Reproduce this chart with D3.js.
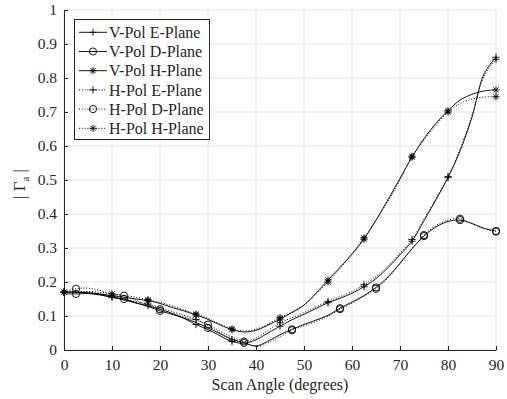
<!DOCTYPE html>
<meta charset="utf-8">
<style>
    body { margin: 0; background: #fff; overflow: hidden; }
    text { font-family: "Liberation Serif", "DejaVu Serif", serif; fill: #262626; }
</style>
<svg id="canvas" width="507" height="399"></svg>
<script src="https://d3js.org/d3.v7.min.js"></script>
<script>

    // scan angles (degrees) the curves are read at
    var angles = [0, 2.5, 5, 7.5, 10, 12.5, 15, 17.5, 20, 22.5, 25, 27.5, 30, 32.5, 35, 37.5, 40, 42.5, 45,
                  47.5, 50, 52.5, 55, 57.5, 60, 62.5, 65, 67.5, 70, 72.5, 75, 77.5, 80, 82.5, 85, 87.5, 90];

    var vPolE = [.170, .170, .168, .163, .155, .147, .138, .130, .120, .108, .093, .075, .060, .042, .025, .020, .030, .050, .070,
                 .089, .105, .122, .139, .152, .167, .186, .210, .242, .280, .320, .380, .442, .507, .585, .685, .812, .861];
    var vPolD = [.165, .165, .166, .162, .155, .150, .139, .128, .115, .105, .094, .081, .065, .048, .032, .021, .012, .026, .045,
                 .061, .075, .088, .102, .123, .141, .160, .184, .215, .255, .298, .335, .362, .378, .382, .372, .358, .350];
    var vPolH = [.170, .170, .168, .165, .160, .155, .150, .145, .137, .125, .115, .103, .090, .074, .060, .053, .058, .073, .091,
                 .110, .132, .167, .206, .243, .282, .326, .382, .442, .505, .567, .622, .667, .704, .735, .752, .762, .765];
    var hPolE = [.170, .172, .170, .165, .158, .150, .142, .135, .125, .113, .102, .090, .072, .050, .030, .025, .035, .058, .080,
                 .095, .110, .127, .143, .157, .172, .192, .216, .247, .285, .325, .385, .446, .510, .590, .690, .805, .855];
    var hPolD = [.172, .180, .182, .175, .165, .160, .146, .132, .120, .108, .097, .087, .075, .055, .038, .025, .010, .021, .040,
                 .058, .071, .084, .099, .120, .138, .158, .180, .212, .255, .298, .338, .366, .382, .386, .372, .357, .348];
    var hPolH = [.170, .172, .172, .170, .165, .160, .155, .148, .140, .130, .118, .106, .093, .076, .062, .056, .061, .076, .095,
                 .112, .133, .164, .200, .240, .283, .330, .382, .438, .500, .570, .617, .662, .700, .725, .738, .744, .745];

    // angles where the markers sit
    var markE = [0, 10, 17.5, 27.5, 35, 45, 55, 62.5, 72.5, 80, 90];
    var markD = [2.5, 12.5, 20, 30, 37.5, 47.5, 57.5, 65, 75, 82.5, 90];
    var markH = [0, 10, 17.5, 27.5, 35, 45, 55, 62.5, 72.5, 80, 90];

    var xTicks = [0, 10, 20, 30, 40, 50, 60, 70, 80, 90];
    var yTicks = [0, 0.1, 0.2, 0.3, 0.4, 0.5, 0.6, 0.7, 0.8, 0.9, 1];

    var seriesNames = ["V-Pol E-Plane", "V-Pol D-Plane", "V-Pol H-Plane", "H-Pol E-Plane", "H-Pol D-Plane", "H-Pol H-Plane"];

    var series = [
        {name: seriesNames[0], values: vPolE, marks: markE, symbol: "plus", dotted: false},
        {name: seriesNames[1], values: vPolD, marks: markD, symbol: "circle", dotted: false},
        {name: seriesNames[2], values: vPolH, marks: markH, symbol: "star", dotted: false},
        {name: seriesNames[3], values: hPolE, marks: markE, symbol: "plus", dotted: true},
        {name: seriesNames[4], values: hPolD, marks: markD, symbol: "circle", dotted: true},
        {name: seriesNames[5], values: hPolH, marks: markH, symbol: "star", dotted: true}
    ];

    var svg = d3.select("#canvas");
    var pLeft = 64, pRight = 496, pTop = 10, pBottom = 350;

    var x = d3.scaleLinear().domain([0, 90]).range([pLeft, pRight]);
    var y = d3.scaleLinear().domain([0, 1]).range([pBottom, pTop]);

    // grid
    var grid = svg.append("g").attr("stroke", "#e3e3e3").attr("stroke-width", 1);
    grid.selectAll(".gx").data(xTicks).enter().append("line")
        .attr("x1", function(d) { return x(d); }).attr("x2", function(d) { return x(d); })
        .attr("y1", pTop).attr("y2", pBottom);
    grid.selectAll(".gy").data(yTicks).enter().append("line")
        .attr("x1", pLeft).attr("x2", pRight)
        .attr("y1", function(d) { return y(d); }).attr("y2", function(d) { return y(d); });

    // axes, ticks pointing inward
    var xAxis = svg.append("g").attr("transform", "translate(0," + pBottom + ")")
        .call(d3.axisBottom(x).tickValues(xTicks).tickSizeInner(-4).tickSizeOuter(0).tickPadding(9).tickFormat(d3.format("d")));
    var yAxis = svg.append("g").attr("transform", "translate(" + pLeft + ",0)")
        .call(d3.axisLeft(y).tickValues(yTicks).tickSizeInner(-4).tickSizeOuter(0).tickPadding(7).tickFormat(function(d) { return d === 0 || d === 1 ? d : d.toFixed(1); }));
    [xAxis, yAxis].forEach(function(a) {
        a.select(".domain").attr("stroke", "#262626");
        a.selectAll(".tick line").attr("stroke", "#262626");
        a.selectAll(".tick text").attr("fill", "#262626").style("font-size", "15.5px").style("font-family", "Liberation Serif");
    });

    svg.append("text").attr("x", (pLeft + pRight) / 2).attr("y", 390)
        .attr("text-anchor", "middle").style("font-size", "16px").text("Scan Angle (degrees)");

    var yl = svg.append("text").attr("transform", "translate(25,184) rotate(-90)")
        .attr("text-anchor", "middle").style("font-size", "17px");
    yl.append("tspan").text("| Γ");
    yl.append("tspan").attr("dy", 4).style("font-size", "11px").text("a");
    yl.append("tspan").attr("dy", -4).text(" |");

    // curves
    var line = d3.line()
        .x(function(d) { return x(d[0]); })
        .y(function(d) { return y(d[1]); })
        .curve(d3.curveCatmullRom.alpha(0.5));

    function drawMarker(g, symbol, cx, cy) {
        var s = 3.6;
        if (symbol === "circle") {
            g.append("circle").attr("cx", cx).attr("cy", cy).attr("r", s).attr("fill", "none");
        } else {
            g.append("path").attr("d", "M" + (cx - s) + "," + cy + "H" + (cx + s) + "M" + cx + "," + (cy - s) + "V" + (cy + s));
            if (symbol === "star") {
                var k = s * 0.72;
                g.append("path").attr("d", "M" + (cx - k) + "," + (cy - k) + "L" + (cx + k) + "," + (cy + k) +
                                           "M" + (cx - k) + "," + (cy + k) + "L" + (cx + k) + "," + (cy - k));
            }
        }
    }

    var plot = svg.append("g");
    series.forEach(function(s) {
        var pts = angles.map(function(a, i) { return [a, s.values[i]]; });
        plot.append("path").datum(pts)
            .attr("fill", "none").attr("stroke", "#000").attr("stroke-width", s.dotted ? 1 : 0.9)
            .attr("stroke-dasharray", s.dotted ? "1,1.8" : null)
            .attr("d", line);
        var mg = plot.append("g").attr("stroke", "#000").attr("stroke-width", 0.9).attr("fill", "none");
        s.marks.forEach(function(a) {
            var v = s.values[angles.indexOf(a)];
            drawMarker(mg, s.symbol, x(a), y(v));
        });
    });

    // legend
    var lg = svg.append("g");
    lg.append("rect").attr("x", 74.5).attr("y", 19.5).attr("width", 135).attr("height", 120)
        .attr("fill", "#fff").attr("stroke", "#262626").attr("stroke-width", 1);
    series.forEach(function(s, i) {
        var ly = 32.3 + i * 19.2;
        lg.append("line").attr("x1", 79).attr("x2", 107).attr("y1", ly).attr("y2", ly)
            .attr("stroke", "#000").attr("stroke-width", s.dotted ? 1 : 0.9)
            .attr("stroke-dasharray", s.dotted ? "1,1.8" : null);
        var mg = lg.append("g").attr("stroke", "#000").attr("stroke-width", 0.9).attr("fill", "none");
        drawMarker(mg, s.symbol, 93, ly);
        lg.append("text").attr("x", 109).attr("y", ly).attr("dy", "0.35em")
            .style("font-size", "16px").text(s.name);
    });

</script>
